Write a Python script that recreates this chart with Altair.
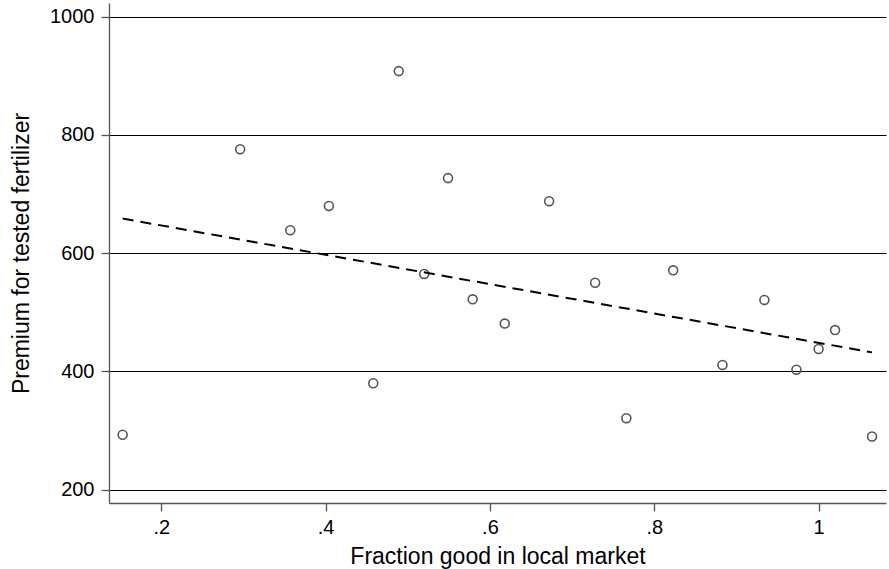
import altair as alt
import pandas as pd

fraction_good = [0.153, 0.296, 0.357, 0.404, 0.458, 0.489, 0.520, 0.549, 0.579, 0.618,
                 0.672, 0.728, 0.766, 0.823, 0.883, 0.934, 0.973, 1.000, 1.020, 1.065]
premium = [293, 776, 639, 680, 380, 908, 565, 727, 522, 481,
           688, 550, 321, 571, 411, 521, 403, 438, 470, 290]

x_ticks = [0.2, 0.4, 0.6, 0.8, 1.0]
y_ticks = [200, 400, 600, 800, 1000]

df = pd.DataFrame({"frac": fraction_good, "prem": premium})

FONT = "Liberation Sans"

x_enc = alt.X(
    "frac:Q",
    scale=alt.Scale(domain=[0.1364, 1.082], nice=False, zero=False),
    axis=alt.Axis(
        title="Fraction good in local market",
        values=x_ticks,
        labelExpr="datum.value == 1 ? '1' : '.' + round(datum.value * 10)",
        grid=False,
        tickSize=8,
        labelPadding=6,
        titlePadding=8,
    ),
)
y_enc = alt.Y(
    "prem:Q",
    scale=alt.Scale(domain=[177.5, 1023.2], nice=False, zero=False),
    axis=alt.Axis(
        title="Premium for tested fertilizer",
        values=y_ticks,
        format="d",
        grid=True,
        tickSize=8,
        labelPadding=7,
        titlePadding=16,
    ),
)

points = alt.Chart(df).mark_point(
    shape="circle", filled=False, size=80, strokeWidth=1.6, color="#555555", opacity=1
).encode(x=x_enc, y=y_enc)

fit = alt.Chart(df).transform_regression("frac", "prem").mark_line(
    color="black", strokeWidth=2, strokeDash=[11, 7]
).encode(x=alt.X("frac:Q"), y=alt.Y("prem:Q"))

chart = (
    alt.layer(points, fit)
    .properties(
        width=777,
        height=500,
        autosize=alt.AutoSizeParams(type="none"),
        padding={"left": 109, "top": 3, "right": 3, "bottom": 66},
        background="white",
    )
    .configure_view(stroke=None)
    .configure_axis(
        labelFont=FONT,
        titleFont=FONT,
        labelFontSize=20,
        titleFontSize=23,
        labelColor="black",
        titleColor="black",
        titleFontWeight="normal",
        domainColor="#555555",
        domainWidth=1.3,
        tickColor="#555555",
        tickWidth=1.3,
        gridColor="black",
        gridWidth=1,
        gridOpacity=1,
    )
)

chart.save("out.html", embed_options={"renderer": "svg", "actions": False})
